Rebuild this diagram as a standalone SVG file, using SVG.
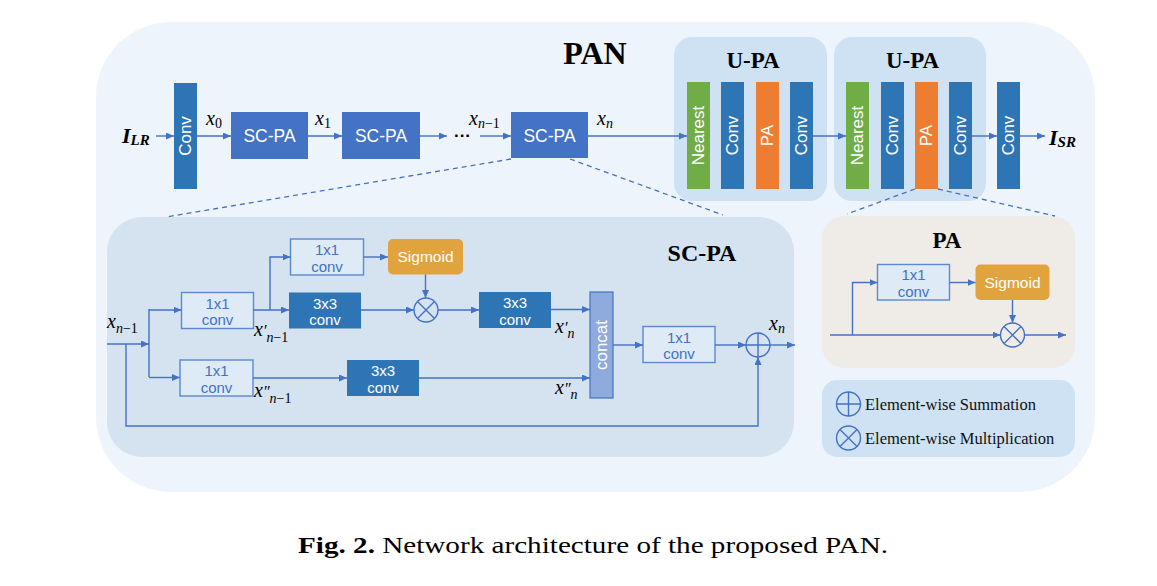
<svg xmlns="http://www.w3.org/2000/svg" width="1157" height="586" viewBox="0 0 1157 586">
<defs>
<marker id="ah" markerUnits="userSpaceOnUse" markerWidth="8" markerHeight="7" refX="8" refY="3.5" orient="auto">
<path d="M0,0 L8,3.5 L0,7 z" fill="#4472C4"/>
</marker>
<style>
.ln{fill:none;stroke:#4472C4;stroke-width:1.4}
.ar{fill:none;stroke:#4472C4;stroke-width:1.4;marker-end:url(#ah)}
.ds{fill:none;stroke:#4472C4;stroke-width:1.3;stroke-dasharray:5,4}
.bar{font-family:"Liberation Sans",Arial,sans-serif;font-size:17px;fill:#fff;text-anchor:middle;dominant-baseline:central}
.wt{font-family:"Liberation Sans",Arial,sans-serif;fill:#fff;text-anchor:middle}
.bt{font-family:"Liberation Sans",Arial,sans-serif;font-size:15px;fill:#4472C4;text-anchor:middle}
.lb{fill:#DEEBF7;stroke:#5A89D0;stroke-width:1.4}
.dk{fill:#2E75B6}
.sg{fill:#E0A33D}
.ttl{font-family:"Liberation Serif","Times New Roman",serif;font-weight:bold;fill:#000;text-anchor:middle}
.m{font-family:"Liberation Serif","Times New Roman",serif;font-style:italic;font-size:20px;fill:#000}
.s{font-size:14px}
.u{font-style:normal}
.cir{fill:none;stroke:#4472C4;stroke-width:1.4}
.leg{font-family:"Liberation Serif","Times New Roman",serif;font-size:16.5px;fill:#111}
</style>
</defs>

<!-- panels -->
<rect id="pan-panel" x="96" y="22" width="999" height="470" rx="75" fill="#EDF4FB"/>
<text class="ttl" x="595" y="64" font-size="32">PAN</text>

<g id="upa1">
<rect x="674" y="37" width="153" height="164" rx="18" fill="#CFE2F3"/>
<text class="ttl" x="753" y="68" font-size="23">U-PA</text>
<rect x="687" y="82" width="23" height="107" fill="#70AD47"/>
<text class="bar" transform="translate(698.5,135.5) rotate(-90)">Nearest</text>
<rect x="721" y="82" width="23" height="107" class="dk"/>
<text class="bar" transform="translate(732.5,135.5) rotate(-90)">Conv</text>
<rect x="756" y="82" width="23" height="107" fill="#ED7D31"/>
<text class="bar" transform="translate(767.5,135.5) rotate(-90)">PA</text>
<rect x="790" y="82" width="23" height="107" class="dk"/>
<text class="bar" transform="translate(801.5,135.5) rotate(-90)">Conv</text>
</g>

<g id="upa2">
<rect x="834" y="37" width="152" height="164" rx="18" fill="#CFE2F3"/>
<text class="ttl" x="912.5" y="68" font-size="23">U-PA</text>
<rect x="846" y="82" width="23" height="107" fill="#70AD47"/>
<text class="bar" transform="translate(857.5,135.5) rotate(-90)">Nearest</text>
<rect x="881" y="82" width="23" height="107" class="dk"/>
<text class="bar" transform="translate(892.5,135.5) rotate(-90)">Conv</text>
<rect x="915" y="82" width="23" height="107" fill="#ED7D31"/>
<text class="bar" transform="translate(926.5,135.5) rotate(-90)">PA</text>
<rect x="949" y="82" width="23" height="107" class="dk"/>
<text class="bar" transform="translate(960.5,135.5) rotate(-90)">Conv</text>
</g>

<g id="ilr">
<text x="122" y="143" font-family="Liberation Serif,serif" font-weight="bold" font-style="italic" font-size="22">I<tspan font-size="15" dy="2">LR</tspan></text>
</g>
<g id="conv-in">
<rect x="174" y="83" width="23" height="106" class="dk"/>
<text class="bar" transform="translate(185.5,136) rotate(-90)">Conv</text>
</g>
<g id="scpa1">
<rect x="231" y="112" width="77" height="47" fill="#4472C4"/>
<text class="wt" x="269.5" y="142" font-size="17.5">SC-PA</text>
</g>
<g id="scpa2">
<rect x="342" y="112" width="78" height="47" fill="#4472C4"/>
<text class="wt" x="381" y="142" font-size="17.5">SC-PA</text>
</g>
<g id="dots">
<text x="454" y="141" font-family="Liberation Sans,sans-serif" font-weight="bold" font-size="17" fill="#000">···</text>
</g>
<g id="scpa3">
<rect x="511" y="112" width="77" height="46" fill="#4472C4"/>
<text class="wt" x="549.5" y="141.5" font-size="17.5">SC-PA</text>
</g>
<g id="conv-out">
<rect x="997" y="82" width="23" height="107" class="dk"/>
<text class="bar" transform="translate(1008.5,135.5) rotate(-90)">Conv</text>
</g>
<g id="isr">
<text x="1049" y="145" font-family="Liberation Serif,serif" font-weight="bold" font-style="italic" font-size="22">I<tspan font-size="15" dy="2">SR</tspan></text>
</g>

<!-- top labels -->
<text class="m" x="206" y="125">x<tspan class="s u" dy="3">0</tspan></text>
<text class="m" x="315" y="125">x<tspan class="s u" dy="3">1</tspan></text>
<text class="m" x="469" y="125">x<tspan class="s" dy="3">n</tspan><tspan class="s u">−1</tspan></text>
<text class="m" x="597" y="125">x<tspan class="s" dy="3">n</tspan></text>

<!-- SC-PA detail panel -->
<rect id="scpa-panel" x="107" y="217" width="687" height="240" rx="35" fill="#D5E2F0"/>
<text class="ttl" x="702" y="261" font-size="24">SC-PA</text>

<g id="c11a"><rect x="181.5" y="292.5" width="72" height="36" class="lb"/><text class="bt" x="217.5" y="308.5">1x1</text><text class="bt" x="217.5" y="325">conv</text></g>
<g id="c11b"><rect x="290.5" y="239" width="73" height="36" class="lb"/><text class="bt" x="327" y="255">1x1</text><text class="bt" x="327" y="271.5">conv</text></g>
<g id="sig1"><rect x="388" y="239" width="75" height="35.5" rx="5" class="sg"/><text class="wt" x="425.5" y="262" font-size="15.5">Sigmoid</text></g>
<g id="c33a"><rect x="289" y="292.5" width="72" height="36" class="dk"/><text class="wt" x="325" y="308.5" font-size="15">3x3</text><text class="wt" x="325" y="325" font-size="15">conv</text></g>
<g id="mul1"><circle cx="426" cy="310" r="12" class="cir"/><path d="M417.5,301.5 L434.5,318.5 M434.5,301.5 L417.5,318.5" class="ln"/></g>
<g id="c33b"><rect x="479" y="292" width="72" height="36" class="dk"/><text class="wt" x="515" y="308" font-size="15">3x3</text><text class="wt" x="515" y="324.5" font-size="15">conv</text></g>
<g id="c11c"><rect x="180" y="360" width="73" height="36" class="lb"/><text class="bt" x="216.5" y="376">1x1</text><text class="bt" x="216.5" y="392.5">conv</text></g>
<g id="c33c"><rect x="347" y="360" width="72" height="36" class="dk"/><text class="wt" x="383" y="376" font-size="15">3x3</text><text class="wt" x="383" y="392.5" font-size="15">conv</text></g>
<g id="concat"><rect x="590" y="292" width="23" height="106" fill="#8FAADC" stroke="#4472C4" stroke-width="1.2"/><text class="bar" font-size="16.5" transform="translate(601.5,345) rotate(-90)">concat</text></g>
<g id="c11d"><rect x="643" y="326.5" width="72" height="36" class="lb"/><text class="bt" x="679" y="342.5">1x1</text><text class="bt" x="679" y="359">conv</text></g>
<g id="add1"><circle cx="758" cy="345" r="12" class="cir"/><path d="M746,345 L770,345 M758,333 L758,357" class="ln"/></g>

<!-- SC-PA labels -->
<text class="m" x="107" y="328" font-size="19">x<tspan class="s" dy="5">n</tspan><tspan class="s u">−1</tspan></text>
<text class="m" x="254" y="336" font-size="19">x<tspan font-size="16">′</tspan><tspan class="s" dy="6">n</tspan><tspan class="s u">−1</tspan></text>
<text class="m" x="254" y="397" font-size="19">x<tspan font-size="16">″</tspan><tspan class="s" dy="6">n</tspan><tspan class="s u">−1</tspan></text>
<text class="m" x="555" y="333" font-size="19">x<tspan font-size="16">′</tspan><tspan class="s" dy="5">n</tspan></text>
<text class="m" x="555" y="394" font-size="19">x<tspan font-size="16">″</tspan><tspan class="s" dy="5">n</tspan></text>
<text class="m" x="769" y="330" font-size="19">x<tspan class="s" dy="3">n</tspan></text>

<!-- PA panel -->
<rect id="pa-panel" x="822" y="216" width="253" height="152" rx="22" fill="#EFECE8"/>
<text class="ttl" x="947" y="248" font-size="23">PA</text>
<g id="pa-c11"><rect x="877.5" y="264.5" width="72" height="35.5" class="lb"/><text class="bt" x="913.5" y="280">1x1</text><text class="bt" x="913.5" y="296.5">conv</text></g>
<g id="pa-sig"><rect x="975.5" y="264.5" width="74" height="35.5" rx="5" class="sg"/><text class="wt" x="1012.5" y="287.5" font-size="15.5">Sigmoid</text></g>
<g id="pa-mul"><circle cx="1012.5" cy="335" r="12" class="cir"/><path d="M1004,326.5 L1021,343.5 M1021,326.5 L1004,343.5" class="ln"/></g>

<!-- legend -->
<g id="legend">
<rect x="822" y="380" width="253" height="77" rx="15" fill="#CFE2F3"/>
<circle cx="848.5" cy="404" r="12" class="cir"/><path d="M836.5,404 L860.5,404 M848.5,392 L848.5,416" class="ln"/>
<text class="leg" x="865" y="410">Element-wise Summation</text>
<circle cx="848.5" cy="438" r="12" class="cir"/><path d="M840,429.5 L857,446.5 M857,429.5 L840,446.5" class="ln"/>
<text class="leg" x="865" y="444">Element-wise Multiplication</text>
</g>

<!-- connectors -->
<g id="connectors">
<path class="ar" d="M156,136 L174,136"/>
<path class="ar" d="M197,136 L231,136"/>
<path class="ar" d="M308,136 L342,136"/>
<path class="ar" d="M420,136 L447,136"/>
<path class="ar" d="M480,136 L511,136"/>
<path class="ar" d="M588,136 L687,136"/>
<path class="ar" d="M813,136 L846,136"/>
<path class="ar" d="M972,136 L997,136"/>
<path class="ar" d="M1020,136 L1045,136"/>
<path class="ds" d="M511,159 L166,217"/>
<path class="ds" d="M570,159 L723,215"/>
<path class="ds" d="M915,189 L847,214"/>
<path class="ds" d="M938,189 L1055,216"/>
<path class="ar" d="M107,344 L149,344"/>
<path class="ln" d="M149,309 L149,377"/>
<path class="ar" d="M149,310 L181.5,310"/>
<path class="ar" d="M149,377.5 L180,377.5"/>
<path class="ar" d="M126,344 L126,426 L758,426 L758,357"/>
<path class="ar" d="M253.5,310 L289,310"/>
<path class="ar" d="M270,310 L270,257 L290.5,257"/>
<path class="ar" d="M363.5,257 L388,257"/>
<path class="ar" d="M425.5,274.5 L425.5,298"/>
<path class="ar" d="M361,310 L414,310"/>
<path class="ar" d="M438,310 L479,310"/>
<path class="ar" d="M551,309.5 L590,309.5"/>
<path class="ar" d="M253,378 L347,378"/>
<path class="ar" d="M419,378 L590,378"/>
<path class="ar" d="M613,345 L643,345"/>
<path class="ar" d="M715,345 L746,345"/>
<path class="ar" d="M770,345 L795,345"/>
<path class="ar" d="M830,335 L1000.5,335"/>
<path class="ar" d="M852.5,335 L852.5,282.5 L877.5,282.5"/>
<path class="ar" d="M949.5,282.5 L975.5,282.5"/>
<path class="ar" d="M1012.5,300 L1012.5,323"/>
<path class="ar" d="M1024.5,335 L1066,335"/>
</g>

<text id="caption" x="298" y="553" font-family="Liberation Serif,serif" font-size="23" fill="#000" textLength="590" lengthAdjust="spacingAndGlyphs"><tspan font-weight="bold">Fig. 2.</tspan> Network architecture of the proposed PAN.</text>
</svg>
